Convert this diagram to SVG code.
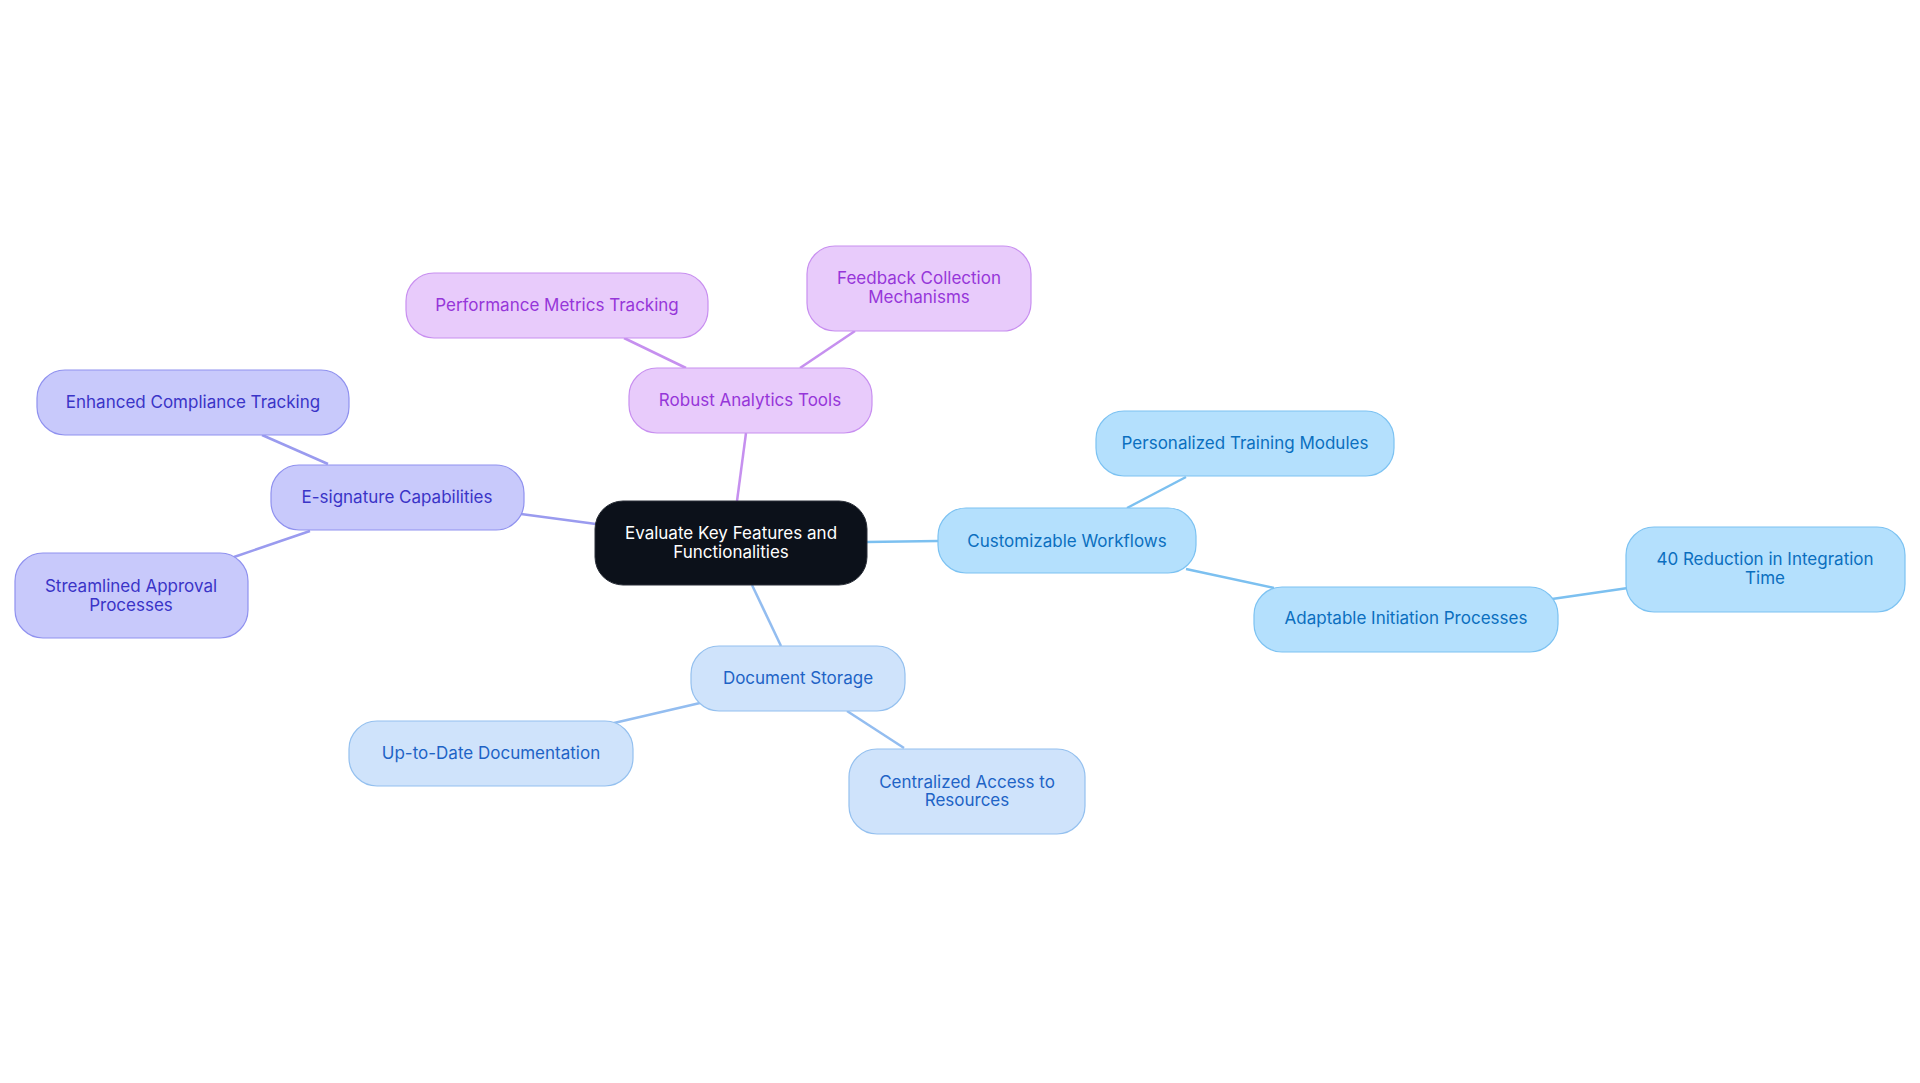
<svg xmlns="http://www.w3.org/2000/svg" width="1920" height="1083" viewBox="0 0 1920 1083">
<style>
text{font-family:Inter,"Noto Sans",sans-serif;font-size:17px;text-anchor:middle;dominant-baseline:central}
.c rect{fill:#0c111a;stroke:#2a2f38;stroke-width:1}
.c text{fill:#ffffff}
.p rect{fill:#e8cbfb;stroke:#c88ff0;stroke-width:1.2}
.p text{fill:#9636d9}
.i rect{fill:#c8c9fb;stroke:#8f91ef;stroke-width:1.2}
.i text{fill:#3a34c7}
.s rect{fill:#b4e0fd;stroke:#7cc2f2;stroke-width:1.2}
.s text{fill:#0b6fbf}
.l rect{fill:#cfe3fb;stroke:#94c0ef;stroke-width:1.2}
.l text{fill:#1e63c6}
.e line{stroke-width:2.5;fill:none}
.ep{stroke:#c690ef}.ei{stroke:#9a9bef}.es{stroke:#7cc0f0}.el{stroke:#93bdf0}
</style>
<rect width="1920" height="1083" fill="#ffffff"/>
<g id="connectors" class="e">
<line class="ep" x1="746" y1="433" x2="737" y2="501"/>
<line class="ep" x1="624" y1="338" x2="686" y2="368"/>
<line class="ep" x1="855" y1="331" x2="800" y2="368"/>
<line class="ei" x1="521" y1="514" x2="596" y2="524"/>
<line class="ei" x1="262" y1="435" x2="328" y2="464"/>
<line class="ei" x1="310" y1="531" x2="234" y2="557"/>
<line class="es" x1="866" y1="542" x2="938" y2="541"/>
<line class="es" x1="1186" y1="477" x2="1127" y2="508"/>
<line class="es" x1="1186" y1="569" x2="1274" y2="588"/>
<line class="es" x1="1552" y1="599" x2="1628" y2="588"/>
<line class="el" x1="752" y1="585" x2="781" y2="646"/>
<line class="el" x1="700" y1="703" x2="614" y2="723"/>
<line class="el" x1="847" y1="711" x2="904" y2="748"/>
</g>
<g id="center" class="c"><rect x="595" y="501" width="272" height="84" rx="28"/><text x="731" y="533">Evaluate Key Features and</text><text x="731" y="552">Functionalities</text></g>
<g id="analytics" class="p"><rect x="629" y="368" width="243" height="65" rx="28"/><text x="750" y="400">Robust Analytics Tools</text></g>
<g id="performance" class="p"><rect x="406" y="273" width="302" height="65" rx="28"/><text x="557" y="305">Performance Metrics Tracking</text></g>
<g id="feedback" class="p"><rect x="807" y="246" width="224" height="85" rx="28"/><text x="919" y="278">Feedback Collection</text><text x="919" y="297">Mechanisms</text></g>
<g id="esign" class="i"><rect x="271" y="465" width="253" height="65" rx="28"/><text x="397" y="497">E-signature Capabilities</text></g>
<g id="compliance" class="i"><rect x="37" y="370" width="312" height="65" rx="28"/><text x="193" y="402">Enhanced Compliance Tracking</text></g>
<g id="approval" class="i"><rect x="15" y="553" width="233" height="85" rx="28"/><text x="131" y="586">Streamlined Approval</text><text x="131" y="605">Processes</text></g>
<g id="workflows" class="s"><rect x="938" y="508" width="258" height="65" rx="28"/><text x="1067" y="541">Customizable Workflows</text></g>
<g id="training" class="s"><rect x="1096" y="411" width="298" height="65" rx="28"/><text x="1245" y="443">Personalized Training Modules</text></g>
<g id="initiation" class="s"><rect x="1254" y="587" width="304" height="65" rx="28"/><text x="1406" y="618">Adaptable Initiation Processes</text></g>
<g id="reduction" class="s"><rect x="1626" y="527" width="279" height="85" rx="28"/><text x="1765" y="559">40 Reduction in Integration</text><text x="1765" y="578">Time</text></g>
<g id="storage" class="l"><rect x="691" y="646" width="214" height="65" rx="28"/><text x="798" y="678">Document Storage</text></g>
<g id="uptodate" class="l"><rect x="349" y="721" width="284" height="65" rx="28"/><text x="491" y="753">Up-to-Date Documentation</text></g>
<g id="centralized" class="l"><rect x="849" y="749" width="236" height="85" rx="28"/><text x="967" y="782">Centralized Access to</text><text x="967" y="800">Resources</text></g>
</svg>
